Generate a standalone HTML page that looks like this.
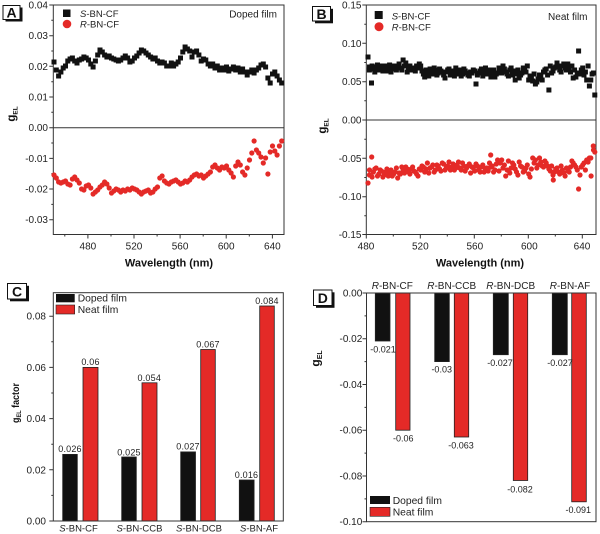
<!DOCTYPE html>
<html><head><meta charset="utf-8"><style>
html,body{margin:0;padding:0;background:#fff;}
svg{display:block;font-family:"Liberation Sans",Arial,sans-serif;}
.t{font-size:10px;fill:#222;}
</style></head><body>
<svg width="600" height="534" viewBox="0 0 600 534" xmlns="http://www.w3.org/2000/svg">
<rect width="600" height="534" fill="#fff"/>

<!-- ================= PANEL A ================= -->
<g>
<rect x="53.3" y="5" width="230.7" height="229.5" fill="none" stroke="#333" stroke-width="1"/>
<line x1="53.3" y1="127.7" x2="284" y2="127.7" stroke="#333" stroke-width="1"/>
<g stroke="#333" stroke-width="1">
<path d="M49.3 5H53.3M49.3 35.7H53.3M49.3 66.3H53.3M49.3 97H53.3M49.3 127.7H53.3M49.3 158.4H53.3M49.3 189H53.3M49.3 219.7H53.3"/>
<path d="M51.3 20.3H53.3M51.3 51H53.3M51.3 81.7H53.3M51.3 112.3H53.3M51.3 143H53.3M51.3 173.7H53.3M51.3 204.4H53.3"/>
<path d="M87.9 234.5V238.5M134 234.5V238.5M180.1 234.5V238.5M226.2 234.5V238.5M272.4 234.5V238.5"/>
<path d="M64.8 234.5V236.5M111 234.5V236.5M157.1 234.5V236.5M203.2 234.5V236.5M249.3 234.5V236.5"/>
</g>
<g class="t" text-anchor="end">
<text x="48" y="8.5">0.04</text><text x="48" y="39.2">0.03</text><text x="48" y="69.8">0.02</text><text x="48" y="100.5">0.01</text><text x="48" y="131.2">0.00</text><text x="48" y="161.9">-0.01</text><text x="48" y="192.5">-0.02</text><text x="48" y="223.2">-0.03</text>
</g>
<g class="t" text-anchor="middle">
<text x="87.9" y="249.5">480</text><text x="134" y="249.5">520</text><text x="180.1" y="249.5">560</text><text x="226.2" y="249.5">600</text><text x="272.4" y="249.5">640</text>
</g>
<text x="169" y="266.5" text-anchor="middle" font-size="11" font-weight="bold" fill="#111">Wavelength (nm)</text>
<text transform="translate(15,114) rotate(-90)" text-anchor="middle" font-weight="bold" font-size="11.5" fill="#111">g<tspan font-size="6.5" dy="2.5">EL</tspan></text>
<!-- data -->
<path fill="none" stroke="#111" stroke-width="5" stroke-linecap="square" d="M54 62h0M56.3 70h0M58.6 76h0M60.9 72h0M63.2 68h0M65.5 66h0M67.8 61h0M70.1 59h0M72.4 58h0M74.7 61h0M77 63h0M79.3 60h0M81.6 59h0M83.9 57h0M86.2 58h0M88.5 60h0M90.8 64h0M93.1 67h0M95.4 61h0M97.7 55h0M100 50h0M102.3 52h0M104.6 55h0M106.9 57h0M109.2 56h0M111.5 58h0M113.8 59h0M116.1 60h0M118.4 61h0M120.7 60h0M123 58h0M125.3 56h0M127.6 58h0M129.9 62h0M132.2 61h0M134.5 58h0M136.8 56h0M139.1 53h0M141.4 50h0M143.7 51h0M146 53h0M148.3 55h0M150.6 57h0M152.9 59h0M155.2 58h0M157.5 61h0M159.8 63h0M162.1 62h0M164.4 63h0M166.7 66h0M169 66h0M171.3 63h0M173.6 66h0M175.9 64h0M178.2 62h0M180.5 58h0M182.8 52h0M185.1 47h0M187.4 49h0M189.7 51h0M192 57h0M194.3 52h0M196.6 51h0M198.9 55h0M201.2 61h0M203.5 59h0M205.8 60h0M208.1 64h0M210.4 66h0M212.7 64h0M215 68h0M217.3 66h0M219.6 70h0M221.9 68h0M224.2 70h0M226.5 67h0M228.8 71h0M231.1 69h0M233.4 67h0M235.7 70h0M238 68h0M240.3 72h0M242.6 69h0M244.9 72h0M247.2 75h0M249.5 72h0M251.8 70h0M254.1 73h0M256.4 70h0M258.7 68h0M261 65h0M263.3 64h0M265.6 67h0M267.9 78h0M270.2 83h0M272.5 74h0M274.8 72h0M277.1 76h0M279.4 80h0M281.7 83h0"/>
<path fill="none" stroke="#e42a27" stroke-width="5.2" stroke-linecap="round" d="M54 175h0M56.3 178h0M58.6 182h0M60.9 183h0M63.2 182h0M65.5 181h0M67.8 184h0M70.1 185h0M72.4 179h0M74.7 177h0M77 180h0M79.3 183h0M81.6 189h0M83.9 190h0M86.2 186h0M88.5 185h0M90.8 188h0M93.1 194h0M95.4 192h0M97.7 190h0M100 187h0M102.3 185h0M104.6 182h0M106.9 184h0M109.2 188h0M111.5 193h0M113.8 191h0M116.1 189h0M118.4 190h0M120.7 192h0M123 190h0M125.3 191h0M127.6 189h0M129.9 190h0M132.2 188h0M134.5 189h0M136.8 190h0M139.1 192h0M141.4 194h0M143.7 192h0M146 191h0M148.3 190h0M150.6 193h0M152.9 192h0M155.2 189h0M157.5 187h0M159.8 178h0M162.1 176h0M164.4 181h0M166.7 183h0M169 184h0M171.3 182h0M173.6 181h0M175.9 180h0M178.2 182h0M180.5 184h0M182.8 183h0M185.1 181h0M187.4 182h0M189.7 180h0M192 177h0M194.3 175h0M196.6 174h0M198.9 176h0M201.2 175h0M203.5 178h0M205.8 176h0M208.1 174h0M210.4 172h0M212.7 167h0M215 165h0M217.3 168h0M219.6 170h0M221.9 167h0M224.2 168h0M226.5 166h0M228.8 170h0M231.1 173h0M233.4 177h0M235.7 166h0M238 162h0M240.3 165h0M242.6 172h0M244.9 175h0M247.2 168h0M249.5 160h0M251.8 153h0M254.1 141h0M256.4 150h0M258.7 153h0M261 157h0M263.3 163h0M265.6 158h0M267.9 174h0M270.2 152h0M272.5 146h0M274.8 151h0M277.1 155h0M279.4 146h0M281.7 141h0"/>
<!-- legend -->
<rect x="63" y="9.5" width="7.5" height="7.5" fill="#111"/>
<circle cx="67" cy="24" r="4.3" fill="#e42a27"/>
<text x="80" y="17" font-size="9.5" fill="#222"><tspan font-style="italic">S</tspan>-BN-CF</text>
<text x="80" y="27.5" font-size="9.5" fill="#222"><tspan font-style="italic">R</tspan>-BN-CF</text>
<text x="277" y="17.3" font-size="10" fill="#222" text-anchor="end">Doped film</text>
<!-- label box -->
<rect x="5.5" y="7.5" width="17" height="14" fill="#111"/>
<rect x="3" y="5.5" width="17" height="14" fill="#fff" stroke="#111" stroke-width="1"/>
<text x="11.5" y="17.5" font-size="14" font-weight="bold" text-anchor="middle" fill="#111">A</text>
</g>

<!-- ================= PANEL B ================= -->
<g>
<rect x="366.3" y="5" width="229.7" height="229.5" fill="none" stroke="#333" stroke-width="1"/>
<line x1="366.3" y1="120" x2="596" y2="120" stroke="#333" stroke-width="1"/>
<g stroke="#333" stroke-width="1">
<path d="M362.3 5H366.3M362.3 43.3H366.3M362.3 81.7H366.3M362.3 120H366.3M362.3 158.3H366.3M362.3 196.7H366.3M362.3 234.5H366.3"/>
<path d="M364.3 24.2H366.3M364.3 62.5H366.3M364.3 100.8H366.3M364.3 139.2H366.3M364.3 177.5H366.3M364.3 215.8H366.3"/>
<path d="M366.3 234.5V238.5M420.3 234.5V238.5M474.3 234.5V238.5M528.3 234.5V238.5M582.3 234.5V238.5"/>
<path d="M393.3 234.5V236.5M447.3 234.5V236.5M501.3 234.5V236.5M555.3 234.5V236.5"/>
</g>
<g class="t" text-anchor="end">
<text x="361.5" y="8.5">0.15</text><text x="361.5" y="46.8">0.10</text><text x="361.5" y="85.2">0.05</text><text x="361.5" y="123.5">0.00</text><text x="361.5" y="161.8">-0.05</text><text x="361.5" y="200.2">-0.10</text><text x="361.5" y="238">-0.15</text>
</g>
<g class="t" text-anchor="middle">
<text x="366" y="249.5">480</text><text x="420.3" y="249.5">520</text><text x="474.8" y="249.5">560</text><text x="529.3" y="249.5">600</text><text x="582" y="249.5">640</text>
</g>
<text x="480" y="266.5" text-anchor="middle" font-size="11" font-weight="bold" fill="#111">Wavelength (nm)</text>
<text transform="translate(326,126) rotate(-90)" text-anchor="middle" font-weight="bold" font-size="11.5" fill="#111">g<tspan font-size="6.5" dy="2.5">EL</tspan></text>
<!-- black data -->
<path fill="none" stroke="#111" stroke-width="5" stroke-linecap="square" d="M368 57h0M369.5 67h0M371.5 83h0M373.4 69h0M376.1 67h0M378.8 70h0M381.5 66h0M384.2 68h0M386.9 71h0M389.6 65h0M392.3 67h0M395 69h0M397.7 66h0M400.4 68h0M403.1 60h0M405.8 63h0M408.5 67h0M411.2 70h0M413.9 68h0M416.6 66h0M419.3 64h0M422 71h0M424.7 77h0M427.4 72h0M430.1 69h0M432.8 74h0M435.5 70h0M438.2 73h0M440.9 71h0M443.6 75h0M446.3 72h0M449 69h0M451.7 73h0M454.4 76h0M457.1 72h0M459.8 70h0M462.5 74h0M465.2 71h0M467.9 75h0M470.6 72h0M473.3 70h0M476 84h0M478.7 73h0M481.4 69h0M484.1 71h0M486.8 74h0M489.5 70h0M492.2 72h0M494.9 77h0M497.6 73h0M500.3 70h0M503 66h0M505.7 72h0M508.4 76h0M511.1 68h0M513.8 71h0M516.5 74h0M519.2 78h0M521.9 73h0M524.6 70h0M527.3 66h0M530 76h0M532.7 81h0M535.4 84h0M538.1 79h0M540.8 77h0M543.5 72h0M546.2 69h0M548.9 90h0M551.6 73h0M554.3 68h0M557 63h0M559.7 70h0M562.4 66h0M565.1 68h0M567.8 64h0M570.5 72h0M573.2 78h0M575.9 77h0M578.6 51h0M581.3 70h0M584 75h0M586.7 80h0M589.4 86h0M592.1 74h0M594.8 95h0
M369.4 70h0M372.1 66h0M374.8 72h0M377.5 65h0M380.2 69h0M382.9 71h0M385.6 66h0M388.3 68h0M391 72h0M393.7 66h0M396.4 70h0M399.1 64h0M401.8 70h0M404.5 66h0M407.2 72h0M409.9 66h0M412.6 69h0M415.3 71h0M418 68h0M420.7 66h0M423.4 74h0M426.1 70h0M428.8 76h0M431.5 71h0M434.2 68h0M436.9 75h0M439.6 69h0M442.3 72h0M445 78h0M447.7 70h0M450.4 75h0M453.1 71h0M455.8 68h0M458.5 74h0M461.2 76h0M463.9 69h0M466.6 73h0M469.3 76h0M472 73h0M474.7 71h0M477.4 75h0M480.1 71h0M482.8 76h0M485.5 68h0M488.2 73h0M490.9 77h0M493.6 70h0M496.3 74h0M499 68h0M501.7 73h0M504.4 69h0M507.1 74h0M509.8 70h0M512.5 75h0M515.2 80h0M517.9 70h0M520.6 75h0M523.3 68h0M526 72h0M528.7 80h0M531.4 78h0M534.1 74h0M536.8 82h0M539.5 75h0M542.2 80h0M544.9 70h0M547.6 75h0M550.3 66h0M553 71h0M555.7 67h0M558.4 66h0M561.1 72h0M563.8 64h0M566.5 70h0M569.2 68h0M571.9 66h0M574.6 70h0M577.3 73h0M580 74h0M582.7 68h0M585.4 72h0M588.1 66h0M590.8 80h0M593.5 73h0"/>
<!-- red data -->
<path fill="none" stroke="#e42a27" stroke-width="5.2" stroke-linecap="round" d="M368 183h0M369.5 170h0M371.7 157h0M373.4 172h0M376.1 168h0M378.8 174h0M381.5 171h0M384.2 175h0M386.9 169h0M389.6 173h0M392.3 176h0M395 172h0M397.7 178h0M400.4 174h0M403.1 170h0M405.8 167h0M408.5 172h0M411.2 169h0M413.9 171h0M416.6 174h0M419.3 169h0M422 166h0M424.7 172h0M427.4 163h0M430.1 168h0M432.8 165h0M435.5 170h0M438.2 166h0M440.9 171h0M443.6 164h0M446.3 168h0M449 162h0M451.7 167h0M454.4 170h0M457.1 165h0M459.8 168h0M462.5 163h0M465.2 171h0M467.9 166h0M470.6 173h0M473.3 168h0M476 164h0M478.7 170h0M481.4 167h0M484.1 172h0M486.8 168h0M489.5 163h0M490.7 155h0M492.2 166h0M494.9 170h0M497.6 160h0M500.3 163h0M503 168h0M505.7 176h0M508.4 161h0M511.1 168h0M513.8 165h0M516.5 172h0M519.2 162h0M521.9 167h0M524.6 171h0M527.3 165h0M530 177h0M532.7 158h0M535.4 160h0M538.1 165h0M540.8 162h0M543.5 167h0M546.2 163h0M548.9 169h0M551.6 166h0M553.3 180h0M554.3 172h0M557 168h0M559.7 174h0M562.4 170h0M565.1 176h0M567.8 171h0M570.5 167h0M573.2 163h0M575.9 167h0M578.6 189h0M581.3 167h0M584 163h0M586.7 160h0M589.4 158h0M591.1 176h0M593.3 146h0M594.8 152h0
M369.4 175h0M372.1 177h0M374.8 169h0M377.5 176h0M380.2 170h0M382.9 177h0M385.6 172h0M388.3 176h0M391 170h0M393.7 174h0M396.4 168h0M399.1 173h0M401.8 167h0M404.5 173h0M407.2 169h0M409.9 174h0M412.6 167h0M415.3 172h0M418 176h0M420.7 170h0M423.4 167h0M426.1 169h0M428.8 173h0M431.5 167h0M434.2 172h0M436.9 165h0M439.6 169h0M442.3 163h0M445 170h0M447.7 166h0M450.4 170h0M453.1 164h0M455.8 168h0M458.5 162h0M461.2 170h0M463.9 166h0M466.6 168h0M469.3 164h0M472 167h0M474.7 171h0M477.4 166h0M480.1 172h0M482.8 165h0M485.5 169h0M488.2 171h0M490.9 167h0M493.6 172h0M496.3 164h0M499 171h0M501.7 160h0M504.4 165h0M507.1 170h0M509.8 173h0M512.5 163h0M515.2 169h0M517.9 175h0M520.6 166h0M523.3 172h0M526 168h0M528.7 174h0M531.4 169h0M534.1 163h0M536.8 168h0M539.5 158h0M542.2 166h0M544.9 161h0M547.6 166h0M550.3 171h0M553 175h0M555.7 169h0M558.4 172h0M561.1 166h0M563.8 173h0M566.5 168h0M569.2 172h0M571.9 161h0M574.6 165h0M577.3 170h0M580 175h0M582.7 165h0M585.4 170h0M588.1 162h0M590.8 158h0M593.5 150h0"/>
<!-- legend -->
<rect x="374.7" y="11" width="8" height="8" fill="#111"/>
<circle cx="379" cy="26.7" r="4.5" fill="#e42a27"/>
<text x="391.7" y="19.5" font-size="9.5" fill="#222"><tspan font-style="italic">S</tspan>-BN-CF</text>
<text x="391.7" y="30.5" font-size="9.5" fill="#222"><tspan font-style="italic">R</tspan>-BN-CF</text>
<text x="587.5" y="20" font-size="10" fill="#222" text-anchor="end">Neat film</text>
<rect x="315" y="8.8" width="18" height="14.5" fill="#111"/>
<rect x="312.5" y="6.5" width="18" height="14.5" fill="#fff" stroke="#111" stroke-width="1"/>
<text x="321.5" y="18.8" font-size="14" font-weight="bold" text-anchor="middle" fill="#111">B</text>
</g>

<!-- ================= PANEL C ================= -->
<g>
<!-- bars -->
<g stroke="#222" stroke-width="0.8">
<rect x="62.7" y="454.4" width="14.6" height="66.6" fill="#111"/>
<rect x="83" y="367.4" width="15" height="153.6" fill="#e42a27"/>
<rect x="121.7" y="457" width="14.6" height="64" fill="#111"/>
<rect x="142" y="382.8" width="15" height="138.2" fill="#e42a27"/>
<rect x="180.7" y="451.9" width="14.8" height="69.1" fill="#111"/>
<rect x="200.7" y="349.5" width="14.6" height="171.5" fill="#e42a27"/>
<rect x="239.3" y="480" width="14.8" height="41" fill="#111"/>
<rect x="259.7" y="306" width="14.6" height="215" fill="#e42a27"/>
</g>
<rect x="53.3" y="292.7" width="230" height="228.3" fill="none" stroke="#333" stroke-width="1"/>
<g stroke="#333" stroke-width="1">
<path d="M49.3 521H53.3M49.3 469.8H53.3M49.3 418.6H53.3M49.3 367.4H53.3M49.3 316.2H53.3"/>
<path d="M51.3 495.4H53.3M51.3 444.2H53.3M51.3 393H53.3M51.3 341.8H53.3"/>
</g>
<g class="t" text-anchor="end">
<text x="46" y="524.5">0.00</text><text x="46" y="473.3">0.02</text><text x="46" y="422.1">0.04</text><text x="46" y="370.9">0.06</text><text x="46" y="319.7">0.08</text>
</g>
<g font-size="9" fill="#222" text-anchor="middle" letter-spacing="0.2">
<text x="70" y="452">0.026</text><text x="90.5" y="365">0.06</text>
<text x="129" y="455.3">0.025</text><text x="149.3" y="380.8">0.054</text>
<text x="188" y="449.3">0.027</text><text x="208" y="347.3">0.067</text>
<text x="246.5" y="477.8">0.016</text><text x="267" y="304">0.084</text>
</g>
<g font-size="9.5" fill="#222" text-anchor="middle">
<text x="78.5" y="531.5"><tspan font-style="italic">S</tspan>-BN-CF</text>
<text x="139.5" y="531.5"><tspan font-style="italic">S</tspan>-BN-CCB</text>
<text x="199" y="531.5"><tspan font-style="italic">S</tspan>-BN-DCB</text>
<text x="259" y="531.5"><tspan font-style="italic">S</tspan>-BN-AF</text>
</g>
<text transform="translate(19,403) rotate(-90)" text-anchor="middle" font-weight="bold" font-size="10.5" fill="#111" textLength="40" lengthAdjust="spacingAndGlyphs">g<tspan font-size="6.5" dy="2">EL</tspan><tspan dy="-2"> factor</tspan></text>
<!-- legend -->
<rect x="56" y="294" width="18.7" height="8.3" fill="#111"/>
<rect x="56" y="305" width="18.7" height="9" fill="#e42a27" stroke="#222" stroke-width="0.6"/>
<text x="77.7" y="301.5" font-size="10.3" fill="#222">Doped film</text>
<text x="77.7" y="313" font-size="10.3" fill="#222">Neat film</text>
<rect x="10" y="285.8" width="19" height="15.5" fill="#111"/>
<rect x="7.5" y="283.5" width="19" height="15.5" fill="#fff" stroke="#111" stroke-width="1"/>
<text x="17" y="296.5" font-size="14" font-weight="bold" text-anchor="middle" fill="#111">C</text>
</g>

<!-- ================= PANEL D ================= -->
<g>
<g stroke="#222" stroke-width="0.8">
<rect x="375.3" y="293" width="14.7" height="48" fill="#111"/>
<rect x="395.7" y="293" width="14.3" height="137.2" fill="#e42a27"/>
<rect x="434.7" y="293" width="14.6" height="68.6" fill="#111"/>
<rect x="454.3" y="293" width="14.4" height="144" fill="#e42a27"/>
<rect x="493.3" y="293" width="15" height="61.7" fill="#111"/>
<rect x="513.3" y="293" width="14.4" height="187.5" fill="#e42a27"/>
<rect x="552.3" y="293" width="15" height="61.7" fill="#111"/>
<rect x="571.7" y="293" width="14.6" height="208.8" fill="#e42a27"/>
</g>
<rect x="366.5" y="293" width="229.5" height="228.7" fill="none" stroke="#333" stroke-width="1"/>
<g stroke="#333" stroke-width="1">
<path d="M362.5 293H366.5M362.5 338.7H366.5M362.5 384.5H366.5M362.5 430.2H366.5M362.5 476H366.5M362.5 521.7H366.5"/>
<path d="M364.5 315.9H366.5M364.5 361.6H366.5M364.5 407.4H366.5M364.5 453.1H366.5M364.5 498.9H366.5"/>
</g>
<g class="t" text-anchor="end">
<text x="362.3" y="296.5">0.00</text><text x="362.3" y="342.2">-0.02</text><text x="362.3" y="388">-0.04</text><text x="362.3" y="433.7">-0.06</text><text x="362.3" y="479.5">-0.08</text><text x="362.3" y="525.2">-0.10</text>
</g>
<g font-size="10" fill="#222" text-anchor="middle">
<text x="392.3" y="289"><tspan font-style="italic">R</tspan>-BN-CF</text>
<text x="451.7" y="289"><tspan font-style="italic">R</tspan>-BN-CCB</text>
<text x="510.7" y="289"><tspan font-style="italic">R</tspan>-BN-DCB</text>
<text x="570" y="289"><tspan font-style="italic">R</tspan>-BN-AF</text>
</g>
<g font-size="9" fill="#222" text-anchor="middle">
<text x="383" y="352.5">-0.021</text><text x="403.3" y="441.5">-0.06</text>
<text x="441.7" y="372.5">-0.03</text><text x="461" y="448.5">-0.063</text>
<text x="500" y="366">-0.027</text><text x="520" y="492.5">-0.082</text>
<text x="560" y="366">-0.027</text><text x="578.3" y="513">-0.091</text>
</g>
<text transform="translate(319.5,358.5) rotate(-90)" text-anchor="middle" font-weight="bold" font-size="12" fill="#111">g<tspan font-size="7" dy="2.5">EL</tspan></text>
<!-- legend -->
<rect x="370" y="496" width="20" height="8" fill="#111"/>
<rect x="370" y="507.3" width="20" height="9" fill="#e42a27" stroke="#222" stroke-width="0.6"/>
<text x="392.7" y="504" font-size="10.3" fill="#222">Doped film</text>
<text x="392.7" y="515.5" font-size="10.3" fill="#222">Neat film</text>
<rect x="316" y="292.3" width="18.5" height="15.5" fill="#111"/>
<rect x="313.5" y="290" width="18.5" height="15.5" fill="#fff" stroke="#111" stroke-width="1"/>
<text x="322.8" y="302.8" font-size="14" font-weight="bold" text-anchor="middle" fill="#111">D</text>
</g>
</svg>
</body></html>
